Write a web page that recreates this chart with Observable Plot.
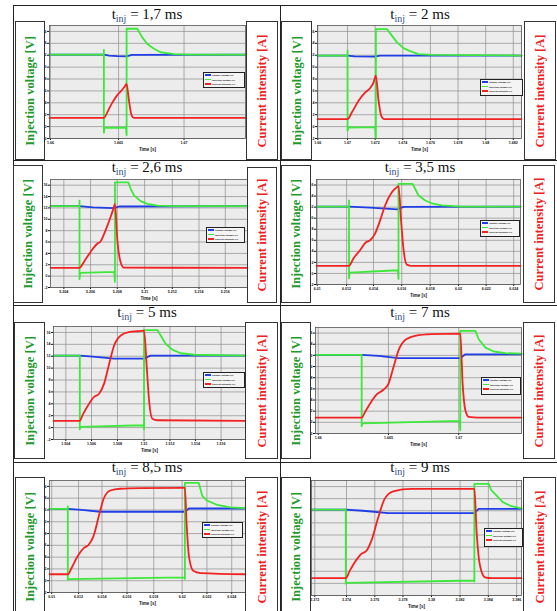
<!DOCTYPE html>
<html><head><meta charset="utf-8">
<script src="https://cdn.jsdelivr.net/npm/d3@7"></script>
<script src="https://cdn.jsdelivr.net/npm/@observablehq/plot@0.6"></script>
<style>
html,body{margin:0;padding:0;background:#fff;}
#root{position:relative;width:557px;height:611px;overflow:hidden;font-family:"Liberation Serif",serif;}
.hl{position:absolute;height:1px;background:#222;}
.vl{position:absolute;width:1px;background:#222;}
.box{position:absolute;border:1px solid #333;background:#fff;box-sizing:border-box;z-index:3;}
.box span{position:absolute;left:50%;top:50%;transform:translate(-50%,-50%) rotate(-90deg);white-space:nowrap;font-weight:bold;font-size:12.5px;}
.title{position:absolute;font-size:15px;transform:translate(-50%,-50%);white-space:nowrap;color:#111;}
.title sub{font-size:10px;color:#33508a;vertical-align:-3px;}
.plot{position:absolute;z-index:1;}
.legend{position:absolute;z-index:2;border:1px solid #222;background:#f4f4f4;box-sizing:border-box;padding:1px 1px;font-family:"Liberation Sans",sans-serif;font-size:2.4px;font-weight:bold;line-height:4.4px;color:#111;}
.legend div{white-space:nowrap;}
.legend i{display:inline-block;width:6px;height:1.6px;margin-right:1px;vertical-align:0.5px;}
</style></head>
<body><div id="root"></div>
<script>
// ---------- data ----------
const titles = ["1,7", "2", "2,6", "3,5", "5", "7", "8,5", "9"];
const seriesNames = ["Control voltage [V]", "Injection voltage [V]", "Current intensity [A]"];
const yTicks = [-2, 0, 2, 4, 6, 8, 10, 12, 14, 16];
const yLabels = ["-2", "0", "2", "4", "6", "8", "10", "12", "14", "16"];

// panel 1 : t_inj = 1,7 ms (time in ms from start of injection)
const p1Domain = [-4.07, 10.6];
const p1XTicks = [-4.0, 1.1, 6.0];
const p1XLabels = ["1.66", "1.665", "1.67"];
const p1Blue = [[-4.07,12.1],[0,12.1],[0.4,11.95],[1.0,11.85],[1.7,11.8],[2.1,12.05],[10.6,12.1]];
const p1Green = [[-4.07,12.1],[0,12.1],[0,12.9],[0,-1.05],[0.05,-0.2],[1.65,-0.15],[1.7,-1.45],[1.7,16.45],[2.5,16.45],[2.875,15.0],[3.25,13.9],[3.75,13.1],[4.25,12.5],[5.25,12.2],[6.5,12.1],[10.6,12.1]];
const p1Red = [[-4.07,1.46],[0,1.46],[0.3,2.6],[0.6,3.9],[1.0,5.3],[1.375,6.2],[1.55,6.7],[1.7,7.2],[1.875,4.4],[2.075,1.9],[2.25,1.46],[10.6,1.46]];

// panel 2 : t_inj = 2 ms
const p2Domain = [-2.12, 12.28];
const p2XTicks = [-2.1, 0, 1.95, 3.9, 5.85, 7.8, 9.75, 11.7];
const p2XLabels = ["1.66", "1.67", "1.672", "1.674", "1.676", "1.678", "1.68", "1.682"];
const p2Blue = [[-2.12,11.95],[0,11.95],[0.5,11.8],[1.9,11.75],[2.3,11.95],[12.28,11.95]];
const p2Green = [[-2.12,11.95],[0,11.95],[0,12.8],[0,-0.7],[0.05,-0.15],[1.95,-0.1],[2,-2],[2,16.4],[2.78,16.4],[3.13,15.3],[3.48,14.2],[3.95,13.2],[4.42,12.7],[5.0,12.2],[5.95,12.05],[12.28,11.95]];
const p2Red = [[-2.12,1.26],[0,1.26],[0.31,2.4],[0.78,4.35],[1.25,5.75],[1.6,6.5],[1.84,7.45],[2.0,8.57],[2.19,4.35],[2.38,1.8],[2.6,1.26],[12.28,1.26]];

// panel 3 : t_inj = 2,6 ms
const p3Domain = [-2.13, 12.33];
const p3XTicks = [-1.15, 0.81, 2.77, 4.78, 6.81, 8.77, 10.7];
const p3XLabels = ["5.204", "5.206", "5.208", "5.21", "5.212", "5.214", "5.216"];
const p3Blue = [[-2.13,12.3],[0,12.3],[1,12.1],[2.5,11.95],[2.9,12.25],[12.33,12.3]];
const p3Green = [[-2.13,12.3],[0,12.3],[0,13.3],[0,-0.54],[0.05,0.57],[2.55,0.75],[2.6,-1.0],[2.6,16.5],[3.58,16.5],[3.75,15.4],[4.0,14.2],[4.49,13.2],[4.98,12.7],[5.71,12.4],[7,12.3],[12.33,12.3]];
const p3Red = [[-2.13,1.45],[0,1.45],[0.32,2.5],[0.81,4.25],[1.3,5.7],[1.54,6.1],[1.91,8.05],[2.28,10.4],[2.52,12.1],[2.6,12.7],[2.77,6.6],[3.01,2.5],[3.26,1.5],[12.33,1.45]];

// panel 4 : t_inj = 3,5 ms
const p4Domain = [-2.3, 12.13];
const p4XTicks = [-2.25, -0.17, 1.73, 3.73, 5.74, 7.75, 9.7, 11.65];
const p4XLabels = ["6.01", "6.012", "6.014", "6.016", "6.018", "6.02", "6.022", "6.024"];
const p4Blue = [[-2.3,12.1],[0,12.1],[1.5,11.9],[3.4,11.6],[3.85,12.05],[12.13,12.1]];
const p4Green = [[-2.3,12.1],[0,12.1],[0,13.2],[0,-0.9],[0.05,0.16],[3.45,0.58],[3.5,-1.0],[3.5,16.2],[4.5,16.2],[4.92,14.1],[5.39,13.2],[5.86,12.7],[6.57,12.3],[8,12.1],[12.13,12.1]];
const p4Red = [[-2.3,1.37],[0,1.37],[0.31,2.7],[0.78,4.2],[1.18,5.6],[1.49,6.0],[1.84,7.2],[2.2,9.6],[2.55,12.3],[3.03,14.7],[3.38,15.6],[3.5,15.8],[3.69,9.3],[3.85,4.5],[4.09,1.6],[4.44,1.37],[12.13,1.37]];

// panel 5 : t_inj = 5 ms
const p5Domain = [-2.05, 12.9];
const p5XTicks = [-1.09, 0.91, 2.93, 5.0, 7.02, 9.0, 11.0];
const p5XLabels = ["1.504", "1.506", "1.508", "1.51", "1.512", "1.514", "1.516"];
const p5Blue = [[-2.05,12.1],[0,12.1],[1,11.95],[2.67,11.6],[5.0,11.6],[5.5,12.1],[12.9,12.1]];
const p5Green = [[-2.05,12.1],[0,12.1],[0,-0.3],[0.05,0.12],[4.95,0.4],[5,-0.3],[5,16.4],[6.04,16.4],[6.3,15.5],[6.68,14.1],[7.2,13.1],[7.85,12.5],[8.9,12.25],[12.9,12.1]];
const p5Red = [[-2.05,1.13],[0,1.13],[0.21,2.1],[0.6,3.6],[1.11,5.15],[1.5,5.7],[1.89,7.4],[2.28,10.7],[2.67,13.8],[3.19,15.5],[3.83,16.05],[4.48,16.2],[5.0,16.3],[5.21,10.2],[5.39,4.6],[5.65,1.5],[6.04,1.24],[12.9,1.13]];

// panel 6 : t_inj = 7 ms
const p6Domain = [-3.28, 11.35];
const p6XTicks = [-3.09, 1.9, 6.89];
const p6XLabels = ["1.66", "1.665", "1.67"];
const p6Blue = [[-3.28,12.1],[0,12.1],[1.2,11.9],[2.6,11.5],[7.0,11.5],[7.36,12.2],[11.35,12.2]];
const p6Green = [[-3.28,12.1],[0,12.1],[0,-0.7],[0.05,-0.2],[6.95,0.26],[7,-1.4],[7,16.4],[8.08,16.4],[8.31,14.9],[8.79,13.4],[9.38,12.7],[10.2,12.4],[11.35,12.3]];
const p6Red = [[-3.28,0.85],[0,0.85],[0.24,1.86],[0.59,3.35],[1.07,5.0],[1.54,5.84],[1.9,6.9],[2.26,9.9],[2.61,12.85],[3.09,14.75],[3.8,15.5],[4.99,15.8],[7.0,15.9],[7.17,6.9],[7.36,2.2],[7.6,0.97],[8.3,0.85],[11.35,0.85]];

// panel 7 : t_inj = 8,5 ms
const p7Domain = [-1.33, 12.9];
const p7XTicks = [-1.17, 0.78, 2.48, 4.3, 6.24, 8.3, 10.1, 11.9];
const p7XLabels = ["6.01", "6.012", "6.014", "6.016", "6.018", "6.02", "6.022", "6.024"];
const p7Blue = [[-1.33,12.2],[0,12.2],[1,12.0],[2.35,11.7],[8.5,11.7],[8.79,12.25],[12.9,12.25]];
const p7Green = [[-1.33,12.2],[0,12.2],[0,12.6],[0,0.15],[0.05,0.27],[8.45,0.55],[8.5,0.3],[8.5,16.6],[9.5,16.6],[9.76,14.4],[10.1,13.6],[10.85,12.85],[11.8,12.45],[12.9,12.3]];
const p7Red = [[-1.33,1.1],[0,1.1],[0.29,2.25],[0.66,3.95],[1.14,5.5],[1.5,6.05],[1.87,7.6],[2.23,10.75],[2.6,13.9],[3.08,15.3],[3.81,15.6],[5.27,15.7],[8.5,15.75],[8.62,9.9],[8.79,4.2],[9.1,1.7],[9.64,1.3],[12.9,1.1]];

// panel 8 : t_inj = 9 ms
const p8Domain = [-2.4, 12.3];
const p8XTicks = [-2.17, 0.05, 2.03, 4.0, 6.0, 8.0, 9.98, 11.96];
const p8XLabels = ["3.372", "3.374", "3.376", "3.378", "3.38", "3.382", "3.384", "3.386"];
const p8Blue = [[-2.4,12.2],[0,12.2],[1.2,12.0],[2.97,11.6],[9.0,11.6],[9.3,12.3],[12.3,12.3]];
const p8Green = [[-2.4,12.2],[0,12.2],[0,-0.07],[0.05,0.09],[8.95,0.48],[9,0.3],[9,16.45],[10.0,16.45],[10.2,15.35],[10.56,14.5],[11.0,13.4],[11.6,12.75],[12.3,12.4]];
const p8Red = [[-2.4,0.86],[0,0.86],[0.28,2.1],[0.63,3.5],[1.1,4.9],[1.45,5.4],[1.8,7.1],[2.27,10.9],[2.73,14.0],[3.32,15.2],[4.6,15.6],[6.94,15.6],[9.0,15.6],[9.16,8.5],[9.39,3.0],[9.74,1.0],[10.2,0.86],[12.3,0.86]];

// ---------- layout (positions only) ----------
const panels = [
  {domain:p1Domain, ticks:p1XTicks, labels:p1XLabels, blue:p1Blue, green:p1Green, red:p1Red},
  {domain:p2Domain, ticks:p2XTicks, labels:p2XLabels, blue:p2Blue, green:p2Green, red:p2Red},
  {domain:p3Domain, ticks:p3XTicks, labels:p3XLabels, blue:p3Blue, green:p3Green, red:p3Red},
  {domain:p4Domain, ticks:p4XTicks, labels:p4XLabels, blue:p4Blue, green:p4Green, red:p4Red},
  {domain:p5Domain, ticks:p5XTicks, labels:p5XLabels, blue:p5Blue, green:p5Green, red:p5Red},
  {domain:p6Domain, ticks:p6XTicks, labels:p6XLabels, blue:p6Blue, green:p6Green, red:p6Red},
  {domain:p7Domain, ticks:p7XTicks, labels:p7XLabels, blue:p7Blue, green:p7Green, red:p7Red},
  {domain:p8Domain, ticks:p8XTicks, labels:p8XLabels, blue:p8Blue, green:p8Green, red:p8Red}
];
const frames = [
  [49,245,25,138],[317,521,25,138],
  [50,247,179,287],[316,520,179,284],
  [53,245,326,439],[315,521,327,433],
  [49,245,480,592],[311,521,480,595]
];
const legendPos = [
  [203,72,42,16],[480,79,43,17],
  [206,227,39,16],[480,220,40,17],
  [203,372,42,16],[481,377,40,18],
  [202,522,41,16],[484,528,39,19]
];
const boxes = [
  [[15,21,30,139],[246,21,32,139],[281,21,31,139],[524,21,32,139]],
  [[13,165,30,138],[247,167,30,136],[281,165,30,138],[523,165,32,138]],
  [[14,322,31,137],[245,322,33,137],[281,322,30,137],[523,322,32,137]],
  [[15,477,30,140],[245,477,33,140],[281,477,30,140],[523,477,33,140]]
];
const titlePos = [[147,15],[420,15],[147,168],[420,168],[147,313],[420,313],[147,468],[420,468]];

const BLUE = "#1f3ee8", GREEN = "#3de83a", RED = "#f22222";
const root = document.getElementById("root");

function el(tag, cls, style, html){
  const e = document.createElement(tag);
  if (cls) e.className = cls;
  Object.assign(e.style, style || {});
  if (html != null) e.innerHTML = html;
  root.appendChild(e);
  return e;
}

// table rules
[5,160,305,462].forEach(y => el("div","hl",{left:"13px",top:y+"px",width:"544px"}));
[13,280].forEach(x => el("div","vl",{left:x+"px",top:"5px",height:"606px"}));

// label boxes
boxes.forEach(row => row.forEach((b,i) => {
  const isLeft = i % 2 === 0;
  el("div","box",{left:b[0]+"px",top:b[1]+"px",width:b[2]+"px",height:b[3]+"px"},
    isLeft ? '<span style="color:#1e9a2c">Injection voltage [V]</span>'
           : '<span style="color:#ee2020">Current intensity [A]</span>');
}));

// titles
titles.forEach((t,i) => {
  el("div","title",{left:titlePos[i][0]+"px",top:titlePos[i][1]+"px"}, "t<sub>inj</sub> = " + t + " ms");
});

// plots
const ML = 9, MR = 1, MT = 1, MB = 16;
panels.forEach((p,i) => {
  const [x0,x1,y0,y1] = frames[i];
  const labelMap = new Map(p.ticks.map((t,k) => [t, p.labels[k]]));
  const yMap = new Map(yTicks.map((t,k) => [t, yLabels[k]]));
  const svg = Plot.plot({
    width: (x1-x0) + ML + MR,
    height: (y1-y0) + MT + MB,
    marginLeft: ML, marginRight: MR, marginTop: MT, marginBottom: MB,
    x: {domain: p.domain, axis: null},
    y: {domain: [-2, 17], axis: null},
    style: {background: "transparent", fontSize: "3.6px", fontWeight: "bold", fontFamily: "Liberation Sans, sans-serif", color: "#111", overflow: "visible"},
    marks: [
      Plot.frame({fill: "#ececec", stroke: null}),
      Plot.gridY(yTicks, {stroke: "#8c8c8c", strokeOpacity: 1, strokeWidth: 0.7}),
      Plot.gridX(p.ticks, {stroke: "#8c8c8c", strokeOpacity: 1, strokeWidth: 0.7}),
      Plot.axisY(yTicks, {tickSize: 2, tickPadding: 1, tickFormat: d => yMap.get(d), label: null, stroke: "#111"}),
      Plot.axisX(p.ticks, {tickSize: 2, tickPadding: 1, tickFormat: d => labelMap.get(d), label: null, stroke: "#111"}),
      Plot.line(p.blue, {x: d => d[0], y: d => d[1], stroke: BLUE, strokeWidth: 1.8}),
      Plot.line(p.green, {x: d => d[0], y: d => d[1], stroke: GREEN, strokeWidth: 1.8}),
      Plot.line(p.red, {x: d => d[0], y: d => d[1], stroke: RED, strokeWidth: 1.8, curve: "monotone-x"}),
      Plot.frame({stroke: "#555", strokeWidth: 0.8}),
      Plot.text(["Time [s]"], {frameAnchor: "bottom", dy: 12, fontSize: 4.5, fontWeight: "bold", fill: "#111"})
    ]
  });
  svg.classList.add("plot");
  Object.assign(svg.style, {left: (x0-ML)+"px", top: (y0-MT)+"px", position: "absolute"});
  root.appendChild(svg);

  const [lx,ly,lw,lh] = legendPos[i];
  el("div","legend",{left:lx+"px",top:ly+"px",width:lw+"px",height:lh+"px"},
    `<div><i style="background:${BLUE}"></i>${seriesNames[0]}</div>` +
    `<div><i style="background:${GREEN}"></i>${seriesNames[1]}</div>` +
    `<div><i style="background:${RED}"></i>${seriesNames[2]}</div>`);
});
</script>
</body></html>
